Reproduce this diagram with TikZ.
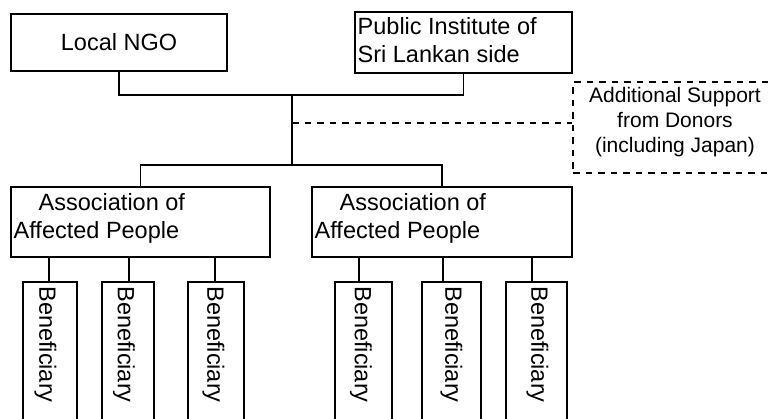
\documentclass[tikz,border=0pt]{standalone}
\usepackage{fontspec}
\setmainfont{Liberation Sans}
\begin{document}
\begin{tikzpicture}[x=1pt,y=-1pt,
  box/.style={draw, line width=1.8pt, inner sep=0pt},
  dbox/.style={draw, line width=1.8pt, inner sep=0pt, dash pattern=on 6.5pt off 6pt},
  txt/.style={inner sep=0pt, font=\fontsize{23.5}{28}\selectfont},
  dtxt/.style={inner sep=0pt, align=center, font=\fontsize{21}{25}\selectfont},
  btxt/.style={inner sep=0pt, rotate=-90, font=\fontsize{23.5}{28}\selectfont},
  conn/.style={line width=1.8pt},
  dconn/.style={line width=1.8pt, dash pattern=on 6.5pt off 6pt}]
\clip (0,0) rectangle (770,418);
% top boxes
\node[box, minimum width=216pt, minimum height=57pt, font=\fontsize{23.5}{28}\selectfont] (ngo) at (119,42.5) {Local NGO};
\node[box, minimum width=217pt, minimum height=61pt] (pub) at (463.5,42.5) {};
\node[txt, align=left, anchor=north west] (pubt) at (357.5,17) {Public Institute of\\Sri Lankan side};
% donor box
\node[dbox, minimum width=227pt, minimum height=91pt] (don) at (686.5,127.5) {};
\node[dtxt] (dont) at (675,122) {Additional Support\\from Donors\\(including Japan)};
% associations
\node[box, minimum width=259pt, minimum height=70pt] (a1) at (140.5,222) {};
\node[box, minimum width=260pt, minimum height=70pt] (a2) at (442,222) {};
\node[txt, align=left, anchor=north west] (a1t) at (13.5,193) {\hspace*{25pt}Association of\\Affected People};
\node[txt, align=left, anchor=north west] (a2t) at (314.5,193) {\hspace*{25pt}Association of\\Affected People};
% beneficiaries
\node[box, minimum width=54pt, minimum height=160pt] (b1) at (50,362) {};
\node[box, minimum width=52pt, minimum height=160pt] (b2) at (128,362) {};
\node[box, minimum width=56pt, minimum height=160pt] (b3) at (216,362) {};
\node[box, minimum width=57pt, minimum height=160pt] (b4) at (363.5,362) {};
\node[box, minimum width=59pt, minimum height=160pt] (b5) at (451.5,362) {};
\node[box, minimum width=61pt, minimum height=160pt] (b6) at (536.5,362) {};
\node[btxt] (b1t) at (45.5,344.5) {Beneficiary};
\node[btxt] (b2t) at (124,344.5) {Beneficiary};
\node[btxt] (b3t) at (213.5,344.5) {Beneficiary};
\node[btxt] (b4t) at (361,344.5) {Beneficiary};
\node[btxt] (b5t) at (451.5,344.5) {Beneficiary};
\node[btxt] (b6t) at (537.5,344.5) {Beneficiary};
% connectors
\coordinate (j1) at (292,95);
\coordinate (j2) at (292,165);
\coordinate (jd) at (292,123);
\draw[conn] (ngo.south) |- (j1) -| (pub.south);
\draw[conn] (j1) -- (j2);
\draw[conn] (a1.north) |- (j2) -| (a2.north);
\draw[dconn] (jd) -- (jd -| don.west);
\draw[conn] ([xshift=-1pt]b1.north) -- ([xshift=-1pt]b1.north |- a1.south);
\draw[conn] ([xshift=1pt]b2.north) -- ([xshift=1pt]b2.north |- a1.south);
\draw[conn] ([xshift=-1pt]b3.north) -- ([xshift=-1pt]b3.north |- a1.south);
\draw[conn] ([xshift=-4.5pt]b4.north) -- ([xshift=-4.5pt]b4.north |- a2.south);
\draw[conn] ([xshift=-8.5pt]b5.north) -- ([xshift=-8.5pt]b5.north |- a2.south);
\draw[conn] ([xshift=-4.5pt]b6.north) -- ([xshift=-4.5pt]b6.north |- a2.south);
\end{tikzpicture}
\end{document}
